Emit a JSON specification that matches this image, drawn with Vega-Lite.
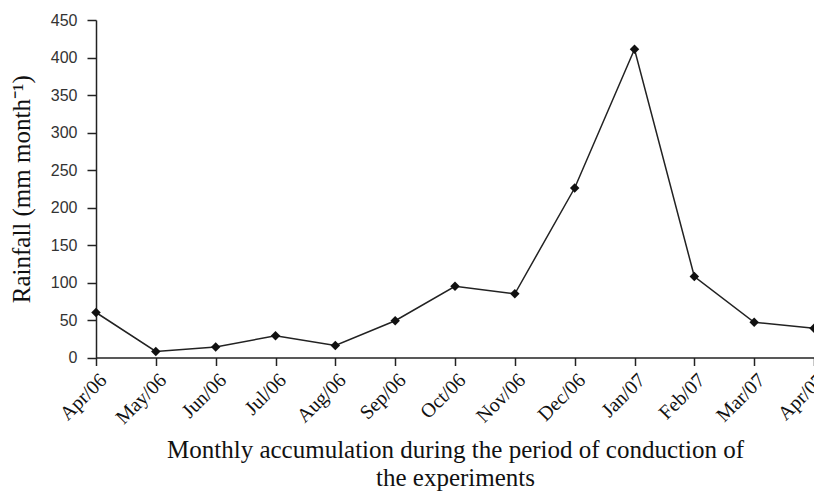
{
  "$schema": "https://vega.github.io/schema/vega-lite/v6.json",
  "autosize": "none",
  "width": 718,
  "height": 337.5,
  "padding": {"left": 96, "top": 20, "right": 0, "bottom": 135.5},
  "background": "white",
  "data": {"values": [
    {"month": "Apr/06", "rain": 60},
    {"month": "May/06", "rain": 8},
    {"month": "Jun/06", "rain": 14},
    {"month": "Jul/06", "rain": 29},
    {"month": "Aug/06", "rain": 16},
    {"month": "Sep/06", "rain": 49},
    {"month": "Oct/06", "rain": 95},
    {"month": "Nov/06", "rain": 85},
    {"month": "Dec/06", "rain": 226},
    {"month": "Jan/07", "rain": 411},
    {"month": "Feb/07", "rain": 108},
    {"month": "Mar/07", "rain": 47},
    {"month": "Apr/07", "rain": 39}
  ]},
  "config": {"view": {"stroke": null}},
  "encoding": {
    "x": {
      "field": "month", "type": "ordinal", "sort": null,
      "scale": {"type": "point", "padding": 0},
      "axis": {
        "title": ["Monthly accumulation during the period of conduction of", "the experiments"],
        "titleFont": "Liberation Serif", "titleFontSize": 25, "titleFontWeight": "normal",
        "titleColor": "#111", "titlePadding": 10, "titleLineHeight": 28,
        "labelFont": "Liberation Serif", "labelFontSize": 20, "labelColor": "#111",
        "labelAngle": -45, "labelAlign": "right", "labelBaseline": "top", "labelPadding": 4,
        "tickSize": 8, "tickColor": "#222", "domainColor": "#222", "domainWidth": 1.5, "tickWidth": 1.5,
        "grid": false
      }
    },
    "y": {
      "field": "rain", "type": "quantitative",
      "scale": {"domain": [0, 450], "nice": false},
      "axis": {
        "title": "Rainfall (mm month⁻¹)",
        "values": [0, 50, 100, 150, 200, 250, 300, 350, 400, 450],
        "titleFont": "Liberation Serif", "titleFontSize": 25, "titleFontWeight": "normal",
        "titleColor": "#111", "titlePadding": 16,
        "labelFont": "Liberation Sans", "labelFontSize": 16, "labelColor": "#333",
        "labelPadding": 10, "tickSize": 9, "tickColor": "#222", "domainColor": "#222",
        "domainWidth": 1.5, "tickWidth": 1.5, "grid": false
      }
    }
  },
  "layer": [
    {"mark": {"type": "line", "color": "#222", "strokeWidth": 1.5, "clip": false}},
    {"mark": {"type": "point", "shape": "diamond", "filled": true, "color": "#111", "size": 90, "opacity": 1, "clip": false}}
  ]
}
